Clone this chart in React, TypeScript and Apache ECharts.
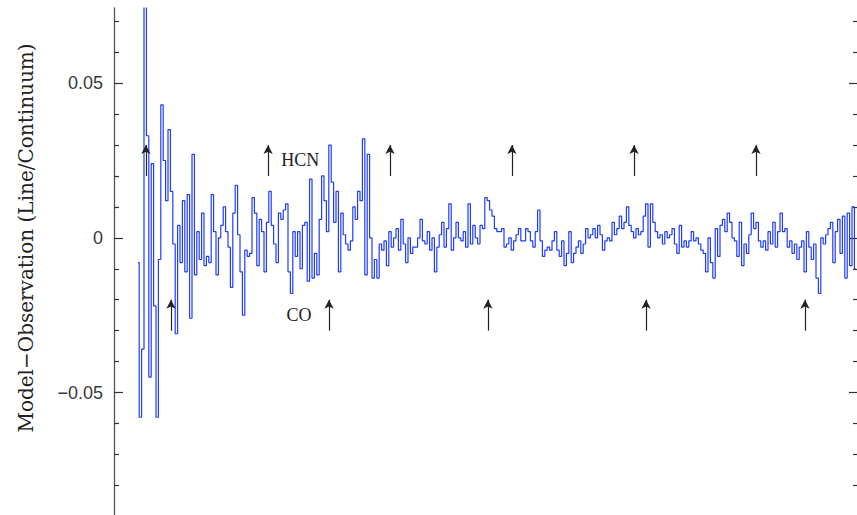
import React, { useEffect, useRef } from "react";
import * as echarts from "echarts";

// Model − Observation residual (line / continuum), one value per spectral channel
const residual = [
  -0.008, -0.058, -0.036, 0.076, 0.033, -0.045, 0.024, -0.022, -0.058, -0.007,
  0.043, 0.025, 0.012, 0.035, 0.015, -0.002, -0.031, 0.004, -0.008, 0.012,
  -0.011, 0.014, -0.026, 0.027, -0.012, 0.002, -0.007, 0.008, -0.009, -0.006,
  -0.008, 0.014, 0.002, -0.012, 0.0, 0.004, 0.01, 0.002, -0.003, -0.016,
  0.008, 0.017, 0.001, -0.011, -0.025, -0.004, -0.006, -0.005, 0.013, 0.008,
  -0.009, 0.006, 0.002, -0.011, 0.005, 0.015, 0.004, -0.002, -0.008, 0.008,
  0.006, 0.009, 0.011, -0.011, -0.018, 0.002, -0.006, 0.002, -0.01, 0.004,
  0.005, -0.014, 0.019, -0.013, -0.005, -0.012, 0.006, 0.02, 0.012, 0.002,
  0.03, 0.018, 0.005, 0.015, -0.011, 0.008, 0.001, -0.002, -0.004, -0.001,
  0.01, 0.006, 0.015, 0.012, 0.032, -0.012, 0.027, 0.0, -0.013, -0.007,
  -0.013, -0.002, -0.004, -0.001, -0.009, 0.002, -0.003, 0.0, 0.003, -0.004,
  0.006, -0.002, -0.008, 0.0, -0.005, -0.003, -0.003, 0.0, 0.006, -0.001,
  -0.002, 0.002, -0.004, 0.0, -0.011, -0.003, 0.001, 0.005, -0.003, 0.003,
  0.011, -0.004, 0.0, 0.005, 0.0, -0.001, 0.002, -0.003, 0.011, -0.002,
  0.004, 0.0, -0.002, 0.004, 0.003, 0.013, 0.012, 0.009, 0.007, 0.003,
  0.002, 0.002, 0.003, -0.003, -0.002, 0.0, -0.004, -0.001, 0.001, 0.003,
  -0.001, -0.001, 0.003, 0.002, -0.001, -0.003, 0.002, 0.009, -0.001, -0.006,
  -0.004, -0.003, -0.004, -0.001, 0.002, -0.004, -0.006, -0.001, -0.009, -0.005,
  0.002, -0.008, -0.005, -0.003, -0.001, -0.005, -0.002, 0.003, 0.0, 0.001,
  0.003, 0.0, 0.004, 0.001, -0.004, -0.001, 0.0, -0.001, 0.005, 0.001,
  0.003, 0.007, 0.003, 0.005, 0.01, 0.004, 0.002, 0.0, 0.003, 0.001,
  0.002, 0.007, 0.011, -0.003, 0.011, 0.005, 0.002, 0.0, 0.001, -0.002,
  0.002, 0.0, 0.001, 0.003, -0.002, -0.005, 0.004, -0.003, -0.001, -0.003,
  -0.001, 0.002, -0.001, 0.0, -0.002, -0.004, -0.005, -0.011, 0.0, -0.008,
  -0.013, 0.003, -0.006, 0.004, 0.006, 0.002, 0.008, 0.005, 0.0, -0.001,
  -0.006, 0.005, -0.009, -0.002, -0.005, 0.001, 0.008, 0.003, 0.005, -0.001,
  -0.003, -0.001, -0.004, 0.002, -0.002, 0.005, -0.003, 0.002, 0.008, 0.002,
  0.003, -0.003, -0.001, -0.005, -0.002, -0.007, -0.003, -0.001, -0.011, 0.002,
  -0.003, -0.007, -0.002, -0.013, -0.018, 0.0, -0.002, 0.001, 0.003, 0.005,
  -0.008, 0.002, 0.006, -0.005, 0.007, -0.013, 0.008, -0.009, 0.01, -0.01,
];

// channel positions of the marked transitions
const hcnLines = [3.3, 54.2, 105, 155.8, 206.7, 257.5];
const coLines = [13.75, 79.6, 145.8, 211.7, 277.9];

// arrow extents (residual units) and species label anchors
const hcnArrow = [0.02, 0.03];
const coArrow = [-0.03, -0.02];
const speciesLabels = [
  { name: "HCN", channel: 67.6, value: 0.0252 },
  { name: "CO", channel: 67.1, value: -0.0249 },
];

// y axis
const yMin = -0.0896;
const yMax = 0.0743;
const majorTicks = [-0.05, 0, 0.05];
const minorTicks = [
  -0.08, -0.07, -0.06, -0.04, -0.03, -0.02, -0.01, 0.01, 0.02, 0.03, 0.04, 0.06, 0.07,
];

const channelMin = -10;
const channelMax = 300;

const BLUE = "#1f3dff";
const INK = "#222222";

function tickText(v: number): string {
  if (Math.abs(v) < 1e-9) return "0";
  return (v < 0 ? "\u2212" : "") + Math.abs(v).toFixed(2);
}

function arrowPairs(xs: number[], ext: number[]) {
  return xs.map((x) => [
    { coord: [x, ext[0]], symbol: "none" },
    { coord: [x, ext[1]], symbol: "arrow", symbolSize: [7, 9] },
  ]);
}

export default function App() {
  const ref = useRef<HTMLDivElement>(null);

  useEffect(() => {
    if (!ref.current) return;
    const chart = echarts.init(ref.current, null, { renderer: "svg" });

    const hidden = {
      type: "value" as const,
      min: yMin,
      max: yMax,
      splitLine: { show: false },
      axisLine: { show: false, onZero: false },
      axisLabel: { show: false },
    };
    const tickStyle = { color: "#333", width: 1.2 };

    chart.setOption({
      animation: false,
      backgroundColor: "#ffffff",
      grid: {
        left: 114,
        right: -1,
        top: 8,
        bottom: 0,
        containLabel: false,
        outerBoundsMode: "none",
      },
      xAxis: {
        type: "value",
        min: channelMin,
        max: channelMax,
        show: false,
      },
      yAxis: [
        {
          ...hidden,
          position: "left",
          axisLine: { show: true, onZero: false, lineStyle: { color: "#555", width: 1.3 } },
          axisTick: { show: true, inside: true, length: 9, customValues: majorTicks, lineStyle: tickStyle },
          axisLabel: {
            show: true,
            customValues: majorTicks,
            margin: 11,
            fontFamily: "Liberation Sans",
            fontSize: 18,
            color: "#3a3a3a",
            formatter: (v: number) => tickText(v),
          },
        },
        {
          ...hidden,
          position: "left",
          axisTick: { show: true, inside: true, length: 5, customValues: minorTicks, lineStyle: tickStyle },
        },
        {
          ...hidden,
          position: "right",
          axisTick: { show: true, inside: true, length: 9, customValues: majorTicks, lineStyle: tickStyle },
        },
        {
          ...hidden,
          position: "right",
          axisTick: { show: true, inside: true, length: 5, customValues: minorTicks, lineStyle: tickStyle },
        },
      ],
      graphic: [
        {
          type: "text",
          x: 26,
          y: 238,
          rotation: Math.PI / 2,
          style: {
            text: "Model\u2212Observation (Line/Continuum)",
            font: '20px "DejaVu Serif"',
            fill: INK,
            align: "center",
            verticalAlign: "middle",
            textAlign: "center",
            textVerticalAlign: "middle",
          },
        },
      ],
      series: [
        {
          type: "line",
          name: "residual",
          data: residual.map((v, i) => [i, v]),
          step: "middle",
          showSymbol: false,
          symbol: "none",
          lineStyle: { color: BLUE, width: 1.2 },
          clip: true,
          silent: true,
          markLine: {
            silent: true,
            symbol: ["none", "arrow"],
            label: { show: false },
            lineStyle: { color: INK, width: 1.2, type: "solid" },
            emphasis: { disabled: true },
            data: [...arrowPairs(hcnLines, hcnArrow), ...arrowPairs(coLines, coArrow)],
          },
          markPoint: {
            silent: true,
            symbol: "circle",
            symbolSize: 0,
            label: {
              show: true,
              position: "inside",
              fontFamily: "Liberation Serif",
              fontSize: 18,
              color: INK,
              formatter: (p: any) => p.name,
            },
            data: speciesLabels.map((s) => ({ name: s.name, coord: [s.channel, s.value] })),
          },
        },
      ],
    });

    return () => chart.dispose();
  }, []);

  return (
    <div
      ref={ref}
      style={{ position: "fixed", left: 0, top: 0, width: 857, height: 515, background: "#fff" }}
    />
  );
}
